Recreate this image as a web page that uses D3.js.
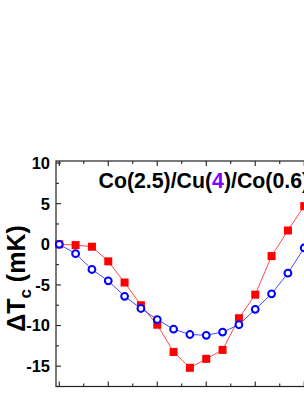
<!DOCTYPE html>
<html>
<head>
<meta charset="utf-8">
<script src="https://cdn.jsdelivr.net/npm/d3@7"></script>
<style>
  html, body { margin: 0; padding: 0; background: #fff; overflow: hidden; }
  svg { display: block; }
</style>
</head>
<body>
<svg id="chart" width="304" height="394"></svg>
<script>
// ---- data ----
const angles = [0, 20, 40, 60, 80, 100, 120, 140, 160, 180, 200, 220, 240, 260, 280, 300];
const redSquares = [0, -0.1, -0.3, -2.1, -4.7, -7.5, -9.9, -13.25, -15.2, -14.1, -13.0, -9.1, -6.2, -1.45, 1.7, 4.7];
const blueCircles = [0, -1.15, -3.1, -4.5, -6.4, -7.9, -9.26, -10.45, -11.1, -11.2, -10.8, -9.9, -8.0, -6.1, -3.55, -0.45];
const yMajorTicks = [10, 5, 0, -5, -10, -15];
const yMinorTicks = [7.5, 2.5, -2.5, -7.5, -12.5, -17.5];
const xMajorTicks = [0, 60, 120, 180, 240, 300, 360];
const xMinorTicks = [30, 90, 150, 210, 270, 330];
const titleParts = [["Co(2.5)/Cu(", "#000"], ["4", "#7f00ff"], [")/Co(0.6)", "#000"]];

// ---- layout ----
const svg = d3.select("#chart");
const x = d3.scaleLinear().domain([-4, 364]).range([56, 356.5]);
const y = d3.scaleLinear().domain([-17.5, 10.25]).range([386.5, 161]);
const font = "'Liberation Sans', Arial, Helvetica, sans-serif";

const [x0, x1] = x.range();
const [yb, yt] = y.range();

// frame
const axisColor = "#222";
const frame = svg.append("g").attr("stroke", axisColor).attr("stroke-width", 1.2).attr("fill", "none");
frame.append("rect").attr("x", x0).attr("y", yt).attr("width", x1 - x0).attr("height", yb - yt);

// inward ticks
const ticks = svg.append("g").attr("stroke", axisColor).attr("stroke-width", 1.1);
function xt(vals, len) {
  vals.forEach(v => {
    ticks.append("line").attr("x1", x(v)).attr("x2", x(v)).attr("y1", yb).attr("y2", yb - len);
    ticks.append("line").attr("x1", x(v)).attr("x2", x(v)).attr("y1", yt).attr("y2", yt + len);
  });
}
function ytk(vals, len) {
  vals.forEach(v => {
    ticks.append("line").attr("x1", x0).attr("x2", x0 + len).attr("y1", y(v)).attr("y2", y(v));
    ticks.append("line").attr("x1", x1).attr("x2", x1 - len).attr("y1", y(v)).attr("y2", y(v));
  });
}
xt(xMajorTicks, 5); xt(xMinorTicks, 3);
ytk(yMajorTicks, 5); ytk(yMinorTicks, 3);

// y tick labels
svg.append("g").selectAll("text").data(yMajorTicks).join("text")
  .attr("x", x0 - 6).attr("y", d => y(d)).attr("dy", "0.36em")
  .attr("text-anchor", "end")
  .attr("font-family", font).attr("font-weight", "bold").attr("font-size", 16.5)
  .text(d => String(d));

// y axis label
const yl = svg.append("text")
  .attr("transform", "translate(25,278.5) rotate(-90)")
  .attr("text-anchor", "middle")
  .attr("font-family", font).attr("font-weight", "bold").attr("font-size", 25);
yl.append("tspan").text("\u0394T");
yl.append("tspan").attr("font-size", 17).attr("dy", 6).text("c");
yl.append("tspan").attr("dy", -6).text(" (mK)");

// title
const tt = svg.append("text").attr("x", 98.5).attr("y", 188)
  .attr("font-family", font).attr("font-weight", "bold").attr("font-size", 21.3);
titleParts.forEach(([t, c]) => tt.append("tspan").attr("fill", c).text(t));

// data
const red = angles.map((a, i) => ({a, v: redSquares[i]}));
const blue = angles.map((a, i) => ({a, v: blueCircles[i]}));
const line = d3.line().x(d => x(d.a)).y(d => y(d.v));

const plot = svg.append("g");
plot.append("path").datum(red).attr("d", line).attr("fill", "none").attr("stroke", "#ff4a4a").attr("stroke-width", 1);
plot.selectAll("rect.sq").data(red).join("rect").attr("class", "sq")
  .attr("x", d => x(d.a) - 4).attr("y", d => y(d.v) - 4).attr("width", 8).attr("height", 8)
  .attr("fill", "#ff0000");
plot.append("path").datum(blue).attr("d", line).attr("fill", "none").attr("stroke", "#4a4aff").attr("stroke-width", 1);
plot.selectAll("circle.ci").data(blue).join("circle").attr("class", "ci")
  .attr("cx", d => x(d.a)).attr("cy", d => y(d.v)).attr("r", 3.4)
  .attr("fill", "#fff").attr("stroke", "#0000ff").attr("stroke-width", 2);
</script>
</body>
</html>
